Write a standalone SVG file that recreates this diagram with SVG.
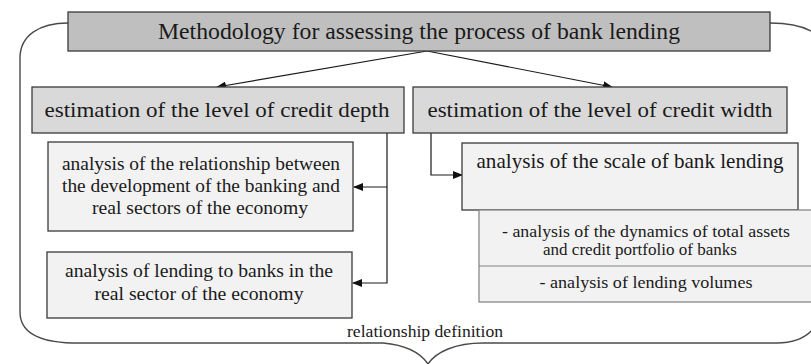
<svg xmlns="http://www.w3.org/2000/svg" width="811" height="364" viewBox="0 0 811 364">
<defs>
<style>
text{fill:#1a1a1a;text-anchor:middle}
.box{stroke:#3a3a3a;stroke-width:1.3}
.t1{fill:#bfbfbf}
.t2{fill:#d9d9d9}
.t3{fill:#f2f2f2}
.tbl{fill:#f2f2f2;stroke:#808080;stroke-width:1.2}
.conn{fill:none;stroke:#1a1a1a;stroke-width:1.2}
.brace{fill:none;stroke:#4a4a4a;stroke-width:1.4}
</style>
<marker id="arr" markerWidth="10" markerHeight="8" refX="9" refY="4" orient="auto" markerUnits="userSpaceOnUse">
<path d="M0,0 L10,4 L0,8 Z" fill="#111"/>
</marker>
</defs>
<rect width="811" height="364" fill="#fff"/>

<g id="brace">
<path class="brace" d="M68,23 C40,23 20,35 20,58 L20,312 C20,332 38,342 72,343 L383,343 C405,345 420,352 428,364"/>
<path class="brace" d="M428,364 C436,352 455,343 483,343 L777,343 C795,343 806,338 814,328"/>
<path class="brace" d="M770,23 C792,23 806,27 816,34"/>
</g>

<g id="connectors">
<line class="conn" x1="427" y1="51" x2="217" y2="87" marker-end="url(#arr)"/>
<line class="conn" x1="427" y1="51" x2="612" y2="87" marker-end="url(#arr)"/>
<polyline class="conn" points="387,133 387,283 353,283" marker-end="url(#arr)"/>
<line class="conn" x1="387" y1="187" x2="354" y2="187" marker-end="url(#arr)"/>
<polyline class="conn" points="431,133 431,175 462,175" marker-end="url(#arr)"/>
</g>

<g font-family="Liberation Serif, Times New Roman, DejaVu Serif, serif">
<g id="title">
<rect class="box t1" x="68" y="12" width="702" height="39"/>
<text x="419" y="39" font-size="22.5" textLength="522" lengthAdjust="spacingAndGlyphs">Methodology for assessing the process of bank lending</text>
</g>

<g id="depth">
<rect class="box t2" x="32" y="87" width="372" height="46"/>
<text x="217" y="117" font-size="22" textLength="345" lengthAdjust="spacingAndGlyphs">estimation of the level of credit depth</text>
</g>

<g id="width">
<rect class="box t2" x="413" y="87" width="374" height="46"/>
<text x="600" y="117" font-size="22" textLength="345" lengthAdjust="spacingAndGlyphs">estimation of the level of credit width</text>
</g>

<g id="relationship">
<rect class="box t3" x="48" y="142" width="305" height="89"/>
<text x="201" y="170" font-size="18" textLength="278" lengthAdjust="spacingAndGlyphs">analysis of the relationship between</text>
<text x="201" y="192" font-size="18" textLength="278" lengthAdjust="spacingAndGlyphs">the development of the banking and</text>
<text x="200" y="214" font-size="18" textLength="216" lengthAdjust="spacingAndGlyphs">real sectors of the economy</text>
</g>

<g id="lending-real">
<rect class="box t3" x="47" y="252" width="305" height="66"/>
<text x="199" y="277" font-size="18" textLength="268" lengthAdjust="spacingAndGlyphs">analysis of lending to banks in the</text>
<text x="199" y="300" font-size="18" textLength="209" lengthAdjust="spacingAndGlyphs">real sector of the economy</text>
</g>

<g id="scale">
<rect class="box t3" x="462" y="143" width="336" height="67"/>
<text x="630" y="168" font-size="21.5" textLength="307" lengthAdjust="spacingAndGlyphs">analysis of the scale of bank lending</text>
</g>

<g id="scale-table">
<rect class="tbl" x="479" y="210" width="340" height="92"/>
<line x1="479" y1="266" x2="819" y2="266" stroke="#808080" stroke-width="1.2"/>
<text x="646" y="237" font-size="16.5" textLength="288" lengthAdjust="spacingAndGlyphs">- analysis of the dynamics of total assets</text>
<text x="640" y="255" font-size="16.5" textLength="194" lengthAdjust="spacingAndGlyphs">and credit portfolio of banks</text>
<text x="646" y="288" font-size="16.5" textLength="213" lengthAdjust="spacingAndGlyphs">- analysis of lending volumes</text>
</g>

<g id="brace-label">
<text x="425" y="337" font-size="16.5" textLength="156" lengthAdjust="spacingAndGlyphs">relationship definition</text>
</g>
</g>
</svg>
